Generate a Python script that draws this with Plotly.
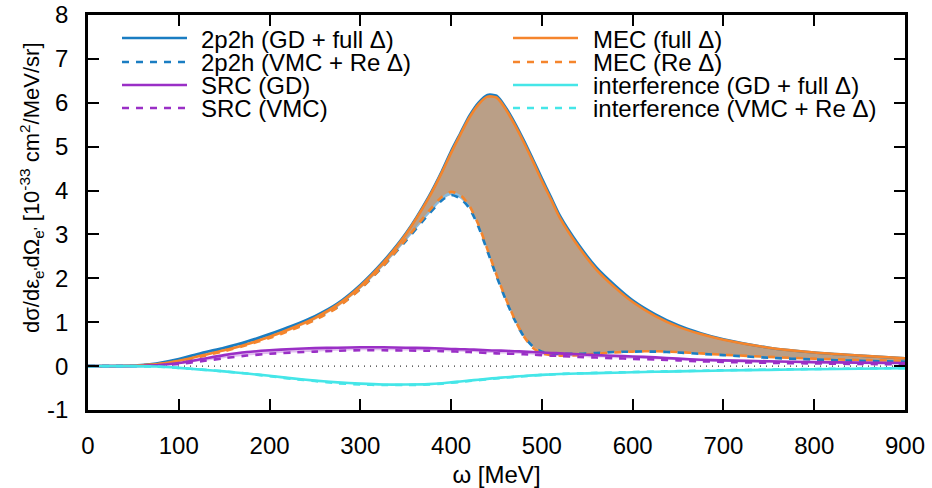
import plotly.graph_objects as go

# Energy transfer grid (MeV)
omega = [0, 25, 50, 75, 100, 125, 150, 175, 200, 225, 250, 275, 300, 325, 350, 375,
         390, 400, 410, 420, 430, 440, 450, 460, 470, 480, 490, 500, 510, 520, 540,
         560, 580, 600, 625, 650, 675, 700, 750, 800, 850, 900]

# Cross sections in units of 1e-33 cm^2/MeV/sr
tp2h_gd_full = [0, 0, 0.01, 0.06, 0.16, 0.30, 0.42, 0.56, 0.73, 0.92, 1.14, 1.43, 1.85, 2.38, 3.02, 3.85,
                4.45, 4.90, 5.30, 5.70, 6.00, 6.18, 6.16, 5.90, 5.55, 5.15, 4.72, 4.28, 3.85, 3.42, 2.78,
                2.25, 1.85, 1.50, 1.18, 0.93, 0.75, 0.61, 0.42, 0.31, 0.24, 0.18]
tp2h_vmc_re = [0, 0, 0.01, 0.05, 0.13, 0.26, 0.38, 0.52, 0.68, 0.86, 1.07, 1.35, 1.76, 2.27, 2.85, 3.45,
               3.78, 3.90, 3.82, 3.60, 3.18, 2.62, 2.05, 1.52, 1.05, 0.68, 0.45, 0.33, 0.29, 0.28, 0.28,
               0.30, 0.32, 0.33, 0.33, 0.31, 0.28, 0.25, 0.19, 0.15, 0.12, 0.10]
mec_full = [0, 0, 0.01, 0.04, 0.12, 0.24, 0.36, 0.50, 0.67, 0.87, 1.10, 1.40, 1.82, 2.35, 3.00, 3.82,
            4.42, 4.86, 5.27, 5.66, 5.96, 6.14, 6.12, 5.86, 5.50, 5.10, 4.67, 4.22, 3.80, 3.37, 2.73,
            2.20, 1.80, 1.46, 1.14, 0.90, 0.73, 0.60, 0.42, 0.31, 0.24, 0.18]
mec_re = [0, 0, 0.01, 0.04, 0.11, 0.22, 0.34, 0.48, 0.64, 0.83, 1.05, 1.34, 1.76, 2.28, 2.88, 3.52,
          3.86, 3.97, 3.90, 3.66, 3.23, 2.66, 2.08, 1.55, 1.07, 0.68, 0.42, 0.29, 0.25, 0.24, 0.25,
          0.28, 0.31, 0.33, 0.34, 0.32, 0.29, 0.26, 0.21, 0.17, 0.14, 0.12]
src_gd = [0, 0, 0, 0.02, 0.07, 0.16, 0.25, 0.32, 0.36, 0.39, 0.41, 0.42, 0.43, 0.43, 0.42, 0.41,
          0.40, 0.39, 0.385, 0.38, 0.37, 0.36, 0.355, 0.35, 0.34, 0.33, 0.32, 0.31, 0.30, 0.29, 0.27,
          0.25, 0.235, 0.22, 0.20, 0.17, 0.145, 0.13, 0.11, 0.09, 0.08, 0.07]
src_vmc = [0, 0, 0, 0.01, 0.05, 0.11, 0.18, 0.24, 0.28, 0.31, 0.33, 0.35, 0.36, 0.36, 0.355, 0.35,
           0.34, 0.335, 0.33, 0.32, 0.31, 0.30, 0.29, 0.285, 0.28, 0.27, 0.26, 0.25, 0.24, 0.23, 0.21,
           0.195, 0.18, 0.165, 0.15, 0.13, 0.11, 0.095, 0.075, 0.06, 0.05, 0.04]
int_gd_full = [0, 0, 0, -0.01, -0.04, -0.08, -0.12, -0.17, -0.22, -0.28, -0.33, -0.37, -0.40, -0.42, -0.42, -0.41,
               -0.39, -0.37, -0.35, -0.33, -0.31, -0.29, -0.27, -0.255, -0.24, -0.225, -0.21, -0.20, -0.19, -0.18, -0.17,
               -0.16, -0.15, -0.14, -0.13, -0.12, -0.11, -0.10, -0.085, -0.07, -0.06, -0.05]
int_vmc_re = [0, 0, 0, -0.01, -0.04, -0.08, -0.12, -0.17, -0.23, -0.29, -0.34, -0.39, -0.42, -0.43, -0.43, -0.42,
              -0.40, -0.38, -0.36, -0.34, -0.32, -0.30, -0.28, -0.26, -0.245, -0.23, -0.215, -0.20, -0.19, -0.18, -0.165,
              -0.155, -0.145, -0.135, -0.125, -0.115, -0.105, -0.095, -0.08, -0.065, -0.055, -0.045]

x_ticks = [0, 100, 200, 300, 400, 500, 600, 700, 800, 900]
y_ticks = [-1, 0, 1, 2, 3, 4, 5, 6, 7, 8]

BLUE = "#1a7dc2"
ORANGE = "#f5852c"
PURPLE = "#9a2fc6"
CYAN = "#45e6e8"
FONT = "Liberation Sans, Arial, sans-serif"
DASH = "7px,7px"

fig = go.Figure()


def band(lower, upper, fillcolor):
    fig.add_trace(go.Scatter(x=omega, y=lower, mode="lines", line=dict(width=0, shape="spline", smoothing=0.7),
                             hoverinfo="skip", showlegend=False))
    fig.add_trace(go.Scatter(x=omega, y=upper, mode="lines", line=dict(width=0, shape="spline", smoothing=0.7),
                             fill="tonexty", fillcolor=fillcolor, hoverinfo="skip", showlegend=False))


# shaded uncertainty bands
band(tp2h_vmc_re, tp2h_gd_full, "rgba(20,120,190,0.5)")
band(mec_re, mec_full, "rgba(240,130,40,0.48)")
band(src_vmc, src_gd, "rgba(154,47,198,0.3)")
band(int_vmc_re, int_gd_full, "rgba(69,230,232,0.3)")

series = [
    ("2p2h (GD + full Δ)", tp2h_gd_full, BLUE, "solid"),
    ("2p2h (VMC + Re Δ)", tp2h_vmc_re, BLUE, DASH),
    ("MEC (full Δ)", mec_full, ORANGE, "solid"),
    ("MEC (Re Δ)", mec_re, ORANGE, DASH),
    ("SRC (GD)", src_gd, PURPLE, "solid"),
    ("SRC (VMC)", src_vmc, PURPLE, DASH),
    ("interference (GD + full Δ)", int_gd_full, CYAN, "solid"),
    ("interference (VMC + Re Δ)", int_vmc_re, CYAN, DASH),
]
for name, ys, color, dash in series:
    fig.add_trace(go.Scatter(x=omega, y=ys, mode="lines", name=name, showlegend=False,
                             line=dict(color=color, width=2.6, dash=dash, shape="spline", smoothing=0.7)))

# plot-area geometry in pixels
W, H = 932, 488
L, R, T, B = 88, 27, 15, 78
pw, ph = W - L - R, H - T - B


def px_x(px):
    return (px - L) / pw


def px_y(py):
    return 1 - (py - T) / ph


shapes = [
    # dotted zero line
    dict(type="line", xref="paper", yref="y", x0=0, x1=1, y0=0, y1=0,
         line=dict(color="#333333", width=1.2, dash="1px,5px"), layer="below"),
]
annotations = []

# two-column key
legend_cols = [
    (122, 187, 200, series[0:2] + series[4:6]),
    (513, 578, 592, series[2:4] + series[6:8]),
]
rows_y = [38, 62, 85, 108]
for x0, x1, xt, items in legend_cols:
    for ry, (name, _, color, dash) in zip(rows_y, items):
        shapes.append(dict(type="line", xref="paper", yref="paper", x0=px_x(x0), x1=px_x(x1),
                           y0=px_y(ry), y1=px_y(ry), line=dict(color=color, width=2.6, dash=dash)))
        annotations.append(dict(xref="paper", yref="paper", x=px_x(xt), y=px_y(ry + 1), text=name,
                                showarrow=False, xanchor="left", yanchor="middle", borderpad=0,
                                font=dict(family=FONT, size=24, color="black")))

# y-axis title
annotations.append(dict(xref="paper", yref="paper", x=0, y=px_y(188), xshift=-57,
                        text="dσ/dε<sub>e'</sub>dΩ<sub>e'</sub> [10<sup>-33</sup> cm<sup>2</sup>/MeV/sr]",
                        textangle=-90, showarrow=False, xanchor="center", yanchor="middle",
                        font=dict(family=FONT, size=22, color="black")))

axis_common = dict(showline=True, linecolor="black", linewidth=2.5, mirror="ticks", ticks="inside",
                   ticklen=11, tickwidth=1.5, tickcolor="black", showgrid=False, zeroline=False,
                   automargin=False, tickfont=dict(family=FONT, size=24, color="black"))

fig.update_layout(
    width=W, height=H,
    margin=dict(l=L, r=R, t=T, b=B, autoexpand=False),
    plot_bgcolor="white", paper_bgcolor="white",
    font=dict(family=FONT, size=24, color="black"),
    xaxis=dict(range=[0, 900], tickvals=x_ticks, ticktext=[str(v) for v in x_ticks],
               title=dict(text="ω [MeV]", font=dict(family=FONT, size=24), standoff=12),
               ticklabelstandoff=12, **axis_common),
    yaxis=dict(range=[-1, 8], tickvals=y_ticks, ticktext=[str(v) for v in y_ticks],
               ticklabelstandoff=12, **axis_common),
    shapes=shapes,
    annotations=annotations,
    showlegend=False,
)

fig.write_html("out.html")
